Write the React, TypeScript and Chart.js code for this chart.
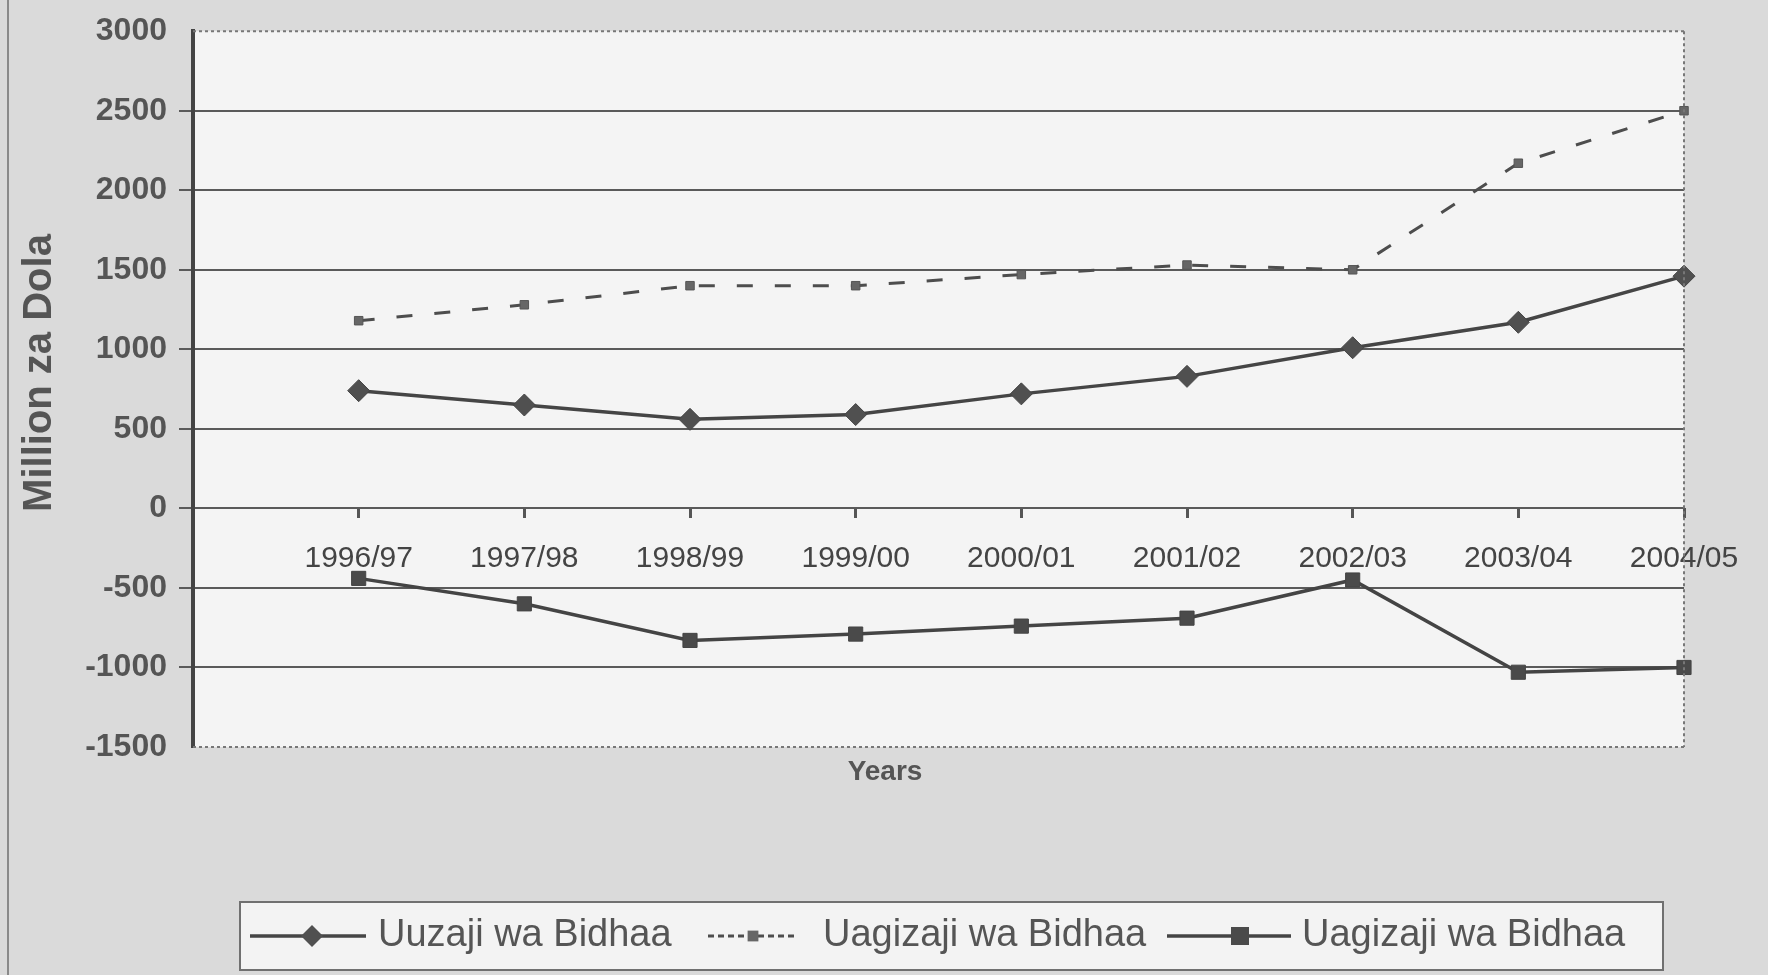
import React, { useEffect, useRef } from 'react';
import { Chart, registerables } from 'chart.js';

Chart.register(...registerables);

// ---- data ----
const yearLabels = ['', '1996/97', '1997/98', '1998/99', '1999/00', '2000/01', '2001/02', '2002/03', '2003/04', '2004/05'];
const uuzajiValues = [null, 740, 650, 560, 590, 720, 830, 1010, 1170, 1460];
const uagizajiValues = [null, 1180, 1280, 1400, 1400, 1470, 1530, 1500, 2170, 2500];
const uagizajiNetValues = [null, -440, -600, -830, -790, -740, -690, -450, -1030, -1000];
const yTickValues = [-1500, -1000, -500, 0, 500, 1000, 1500, 2000, 2500, 3000];
const seriesNames = ['Uuzaji wa Bidhaa', 'Uagizaji wa Bidhaa', 'Uagizaji wa Bidhaa'];
const yAxisTitle = 'Million za Dola';
const xAxisTitle = 'Years';

const FONT = '"Liberation Sans", Arial, sans-serif';

const backgroundPlugin = {
  id: 'bgPlugin',
  beforeDraw(chart: any) {
    const { ctx, chartArea: a, width, height } = chart;
    ctx.save();
    ctx.fillStyle = '#dadada';
    ctx.fillRect(0, 0, width, height);
    ctx.fillStyle = '#f4f4f4';
    ctx.fillRect(a.left, a.top, a.right - a.left, a.bottom - a.top);
    ctx.strokeStyle = '#8a8a8a';
    ctx.lineWidth = 2;
    ctx.beginPath();
    ctx.moveTo(8, 0);
    ctx.lineTo(8, height);
    ctx.stroke();
    ctx.restore();
  },
  afterDraw(chart: any) {
    const { ctx, chartArea: a } = chart;
    ctx.save();
    // dotted borders (top, right, bottom)
    ctx.strokeStyle = '#777';
    ctx.lineWidth = 2;
    ctx.setLineDash([3, 3]);
    ctx.beginPath();
    ctx.moveTo(a.left, a.top);
    ctx.lineTo(a.right, a.top);
    ctx.moveTo(a.right, a.top);
    ctx.lineTo(a.right, a.bottom);
    ctx.moveTo(a.left, a.bottom);
    ctx.lineTo(a.right, a.bottom);
    ctx.stroke();
    ctx.setLineDash([]);

    // axis titles
    ctx.fillStyle = '#555';
    ctx.font = `bold 28px ${FONT}`;
    ctx.textAlign = 'center';
    ctx.textBaseline = 'middle';
    ctx.fillText(xAxisTitle, 885, 772);
    ctx.save();
    ctx.translate(40, 373);
    ctx.rotate(-Math.PI / 2);
    ctx.font = `bold 40px ${FONT}`;
    ctx.fillText(yAxisTitle, 0, 0);
    ctx.restore();

    // legend
    const lx = 240, ly = 902, lw = 1423, lh = 68;
    ctx.fillStyle = '#f3f3f3';
    ctx.fillRect(lx, ly, lw, lh);
    ctx.strokeStyle = '#707070';
    ctx.lineWidth = 2;
    ctx.strokeRect(lx, ly, lw, lh);
    const cy = 936;
    const items = [
      { x1: 250, x2: 366, mx: 312, tx: 378 },
      { x1: 708, x2: 795, mx: 753, tx: 823 },
      { x1: 1167, x2: 1291, mx: 1240, tx: 1302 },
    ];
    chart.data.datasets.forEach((ds: any, i: number) => {
      const it = items[i];
      ctx.strokeStyle = ds.borderColor;
      ctx.lineWidth = ds.borderWidth;
      ctx.setLineDash(ds.borderDash || []);
      if (i === 1) ctx.setLineDash([6, 4]);
      ctx.beginPath();
      ctx.moveTo(it.x1, cy);
      ctx.lineTo(it.x2, cy);
      ctx.stroke();
      ctx.setLineDash([]);
      ctx.fillStyle = ds.pointBackgroundColor;
      const r = ds.pointRadius;
      ctx.beginPath();
      if (ds.pointStyle === 'rectRot') {
        ctx.moveTo(it.mx, cy - r);
        ctx.lineTo(it.mx + r, cy);
        ctx.lineTo(it.mx, cy + r);
        ctx.lineTo(it.mx - r, cy);
        ctx.closePath();
      } else {
        const s = r * 0.9;
        ctx.rect(it.mx - s, cy - s, 2 * s, 2 * s);
      }
      ctx.fill();
      ctx.fillStyle = '#555';
      ctx.font = `38px ${FONT}`;
      ctx.textAlign = 'left';
      ctx.textBaseline = 'middle';
      ctx.fillText(ds.label, it.tx, cy);
    });
    ctx.restore();
  },
};

export default function App() {
  const canvasRef = useRef<HTMLCanvasElement | null>(null);

  useEffect(() => {
    const canvas = canvasRef.current;
    if (!canvas) return;
    const chart = new Chart(canvas, {
      type: 'line',
      data: {
        labels: yearLabels,
        datasets: [
          {
            label: seriesNames[0],
            data: uuzajiValues,
            borderColor: '#454545',
            borderWidth: 3.5,
            pointStyle: 'rectRot',
            pointRadius: 11,
            pointBackgroundColor: '#505050',
            pointBorderColor: '#454545',
            pointBorderWidth: 1,
            tension: 0,
          },
          {
            label: seriesNames[1],
            data: uagizajiValues,
            borderColor: '#4d4d4d',
            borderWidth: 3,
            borderDash: [16, 22],
            pointStyle: 'rect',
            pointRadius: 6,
            pointBackgroundColor: '#666',
            pointBorderColor: '#555',
            pointBorderWidth: 1,
            tension: 0,
          },
          {
            label: seriesNames[2],
            data: uagizajiNetValues,
            borderColor: '#444',
            borderWidth: 3.5,
            pointStyle: 'rect',
            pointRadius: 10,
            pointBackgroundColor: '#4a4a4a',
            pointBorderColor: '#444',
            pointBorderWidth: 1,
            tension: 0,
          },
        ],
      } as any,
      options: {
        responsive: false,
        animation: false,
        layout: { padding: { left: 0, right: 84, top: 25, bottom: 228 } },
        plugins: {
          legend: { display: false },
          tooltip: { enabled: false },
        },
        scales: {
          x: {
            type: 'category',
            offset: false,
            position: { y: 0 } as any,
            afterFit: (s: any) => {
              s.height = 0;
            },
            grid: {
              drawOnChartArea: false,
              drawTicks: true,
              tickLength: 10,
              color: '#555',
              lineWidth: 3,
            },
            border: { display: false },
            ticks: {
              autoSkip: false,
              maxRotation: 0,
              padding: 22,
              color: '#444',
              font: { family: FONT, size: 30 },
            },
          },
          y: {
            type: 'linear',
            min: -1500,
            max: 3000,
            afterFit: (s: any) => {
              s.width = 193;
            },
            afterBuildTicks: (s: any) => {
              s.ticks = yTickValues.map((v) => ({ value: v }));
            },
            grid: {
              color: (c: any) =>
                c.tick && (c.tick.value === 3000 || c.tick.value === -1500) ? 'rgba(0,0,0,0)' : '#5a5a5a',
              lineWidth: 2,
              drawTicks: true,
              tickLength: 14,
            },
            border: { display: true, color: '#444', width: 4 },
            ticks: {
              padding: 12,
              color: '#555',
              font: { family: FONT, size: 32, weight: 'bold' },
              callback: (v: any) => String(v),
            },
          },
        },
      } as any,
      plugins: [backgroundPlugin],
    });
    return () => chart.destroy();
  }, []);

  return (
    <div style={{ position: 'absolute', left: 0, top: 0, width: 1768, height: 975 }}>
      <canvas ref={canvasRef} width={1768} height={975} style={{ width: 1768, height: 975, display: 'block' }} />
    </div>
  );
}
